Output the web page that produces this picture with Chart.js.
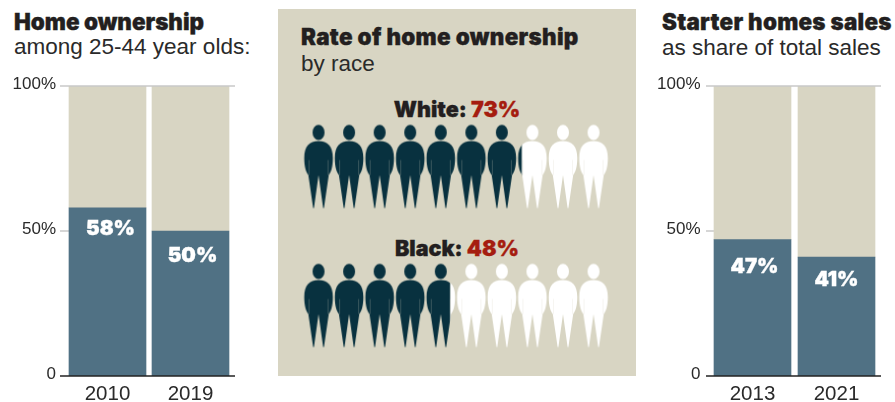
<!DOCTYPE html>
<html lang="en">
  <head>
    <meta charset="UTF-8" />
    <title>Home ownership</title>
    <style>
      html, body { margin: 0; padding: 0; background: #fff; }
      body { width: 895px; height: 402px; position: relative; overflow: hidden; font-family: "Liberation Sans", sans-serif; color: #2a2a2a; }
      canvas { position: absolute; }
      .panel { position: absolute; left: 278px; top: 9px; width: 358px; height: 367px; background: #d8d5c3; }
      .text { position: absolute; white-space: nowrap; font-size: 22.5px; line-height: 26px; }
      .head { font-family: Inter, sans-serif; font-weight: 900; font-size: 22.4px; color: #231f20; -webkit-text-stroke: 0.35px currentColor; }
      .rowlabel { font-size: 21.5px; text-align: center; width: 358px; left: 278px; }
      .rowlabel b { color: #a51d10; font-weight: 900; }
    </style>
  </head>
  <body>
    <div class="panel"></div>
    <div class="text head" style="left:14px;top:9px">Home ownership</div>
    <div class="text" style="left:14px;top:34px">among 25-44 year olds:</div>
    <div class="text head" style="left:301px;top:24px;letter-spacing:0.32px">Rate of home ownership</div>
    <div class="text" style="left:301px;top:51px">by race</div>
    <div class="text head" style="left:662px;top:9px;letter-spacing:0.26px">Starter homes sales</div>
    <div class="text" style="left:662px;top:35px">as share of total sales</div>
    <div class="text head rowlabel" id="row0" style="top:96px"></div>
    <div class="text head rowlabel" id="row1" style="top:235px"></div>

    <canvas id="ownership" width="260" height="402" style="left:0;top:0"></canvas>
    <canvas id="starter" width="251" height="402" style="left:644px;top:0"></canvas>
    <canvas id="people" width="337" height="230" style="left:288px;top:120px"></canvas>

    <script src="https://cdn.jsdelivr.net/npm/chart.js@4"></script>
    <script>
      var ownershipYears = ['2010', '2019'];
      var ownershipShare = [58, 50];
      var starterYears = ['2013', '2021'];
      var starterShare = [47, 41];
      var races = ['White', 'Black'];
      var raceShare = [73, 48];
      var figureCount = 10;

      var BEIGE = '#d8d5c3';
      var BAR_BLUE = '#507184';
      var DARK = '#08313f';

      // guide lines and white percentages on the bars
      var barExtras = {
        id: 'barExtras',
        beforeDatasetsDraw: function(chart, args, opts) {
          var ctx = chart.ctx, area = chart.chartArea, y = chart.scales.y;
          var firstBar = chart.getDatasetMeta(0).data[0];
          ctx.save();
          ctx.strokeStyle = '#c9c9c9';
          ctx.lineWidth = 1.5;
          ctx.beginPath();
          ctx.moveTo(area.left - opts.padLeft, y.getPixelForValue(50));
          ctx.lineTo(firstBar.x - firstBar.width / 2, y.getPixelForValue(50));
          ctx.stroke();
          ctx.restore();
        },
        afterDatasetsDraw: function(chart, args, opts) {
          var ctx = chart.ctx, area = chart.chartArea, y = chart.scales.y;
          ctx.save();
          ctx.lineWidth = 1.5;
          ctx.strokeStyle = '#c9c9c9';
          ctx.beginPath();
          ctx.moveTo(area.left - opts.padLeft, y.getPixelForValue(100));
          ctx.lineTo(area.right + opts.padRight, y.getPixelForValue(100));
          ctx.stroke();
          ctx.strokeStyle = '#222';
          ctx.beginPath();
          ctx.moveTo(area.left - opts.padLeft, y.getPixelForValue(0));
          ctx.lineTo(area.right + opts.padRight, y.getPixelForValue(0));
          ctx.stroke();

          ctx.fillStyle = '#fff';
          ctx.strokeStyle = '#fff';
          ctx.lineWidth = 0.4;
          ctx.font = '900 20.5px Inter, sans-serif';
          ctx.textAlign = 'center';
          ctx.textBaseline = 'middle';
          chart.getDatasetMeta(0).data.forEach(function(bar, i) {
            var v = chart.data.datasets[0].data[i];
            ctx.fillText(v + '%', bar.x + opts.nudge[i], bar.y + opts.drop[i]);
            ctx.strokeText(v + '%', bar.x + opts.nudge[i], bar.y + opts.drop[i]);
          });
          ctx.restore();
        }
      };

      function makeBars(id, years, share, extras, yWidth, rightPad) {
        new Chart(document.getElementById(id), {
          type: 'bar',
          data: {
            labels: years,
            datasets: [
              { data: share, backgroundColor: BAR_BLUE, stack: 's' },
              { data: share.map(function(v) { return 100 - v; }), backgroundColor: BEIGE, stack: 's' }
            ]
          },
          options: {
            responsive: false,
            animation: false,
            barThickness: 77,
            layout: { padding: { top: 86, right: rightPad, bottom: 0, left: 0 } },
            scales: {
              x: {
                stacked: true,
                grid: { display: false, drawTicks: false },
                border: { display: false },
                ticks: { color: '#2a2a2a', padding: 6, maxRotation: 0, font: { family: 'Liberation Sans', size: 20.5 } },
                afterFit: function(s) { s.height = 26; }
              },
              y: {
                stacked: true,
                min: 0,
                max: 100,
                grid: { display: false, drawTicks: false },
                border: { display: false },
                ticks: {
                  stepSize: 50,
                  padding: 10,
                  labelOffset: -2,
                  color: '#2a2a2a',
                  font: { family: 'Liberation Sans', size: 17 },
                  callback: function(v) { return v === 0 ? '0' : v + '%'; }
                },
                afterFit: function(s) { s.width = yWidth; }
              }
            },
            plugins: { legend: { display: false }, tooltip: { enabled: false }, barExtras: extras }
          },
          plugins: [barExtras]
        });
      }

      makeBars('ownership', ownershipYears, ownershipShare, { padLeft: 6, padRight: 3, drop: [21, 25], nudge: [3, 2] }, 66, 28);
      makeBars('starter', starterYears, starterShare, { padLeft: 4.5, padRight: 2.5, drop: [27, 23], nudge: [2, 0] }, 66.5, 16.5);

      // one person, dark up to splitX and white after it
      function drawFigureShape(ctx) {
        ctx.beginPath();
        ctx.ellipse(0, 7.4, 6, 7.6, 0, 0, Math.PI * 2);
        ctx.moveTo(0, 16);
        ctx.bezierCurveTo(-9, 16, -14.3, 21, -14.3, 33);
        ctx.bezierCurveTo(-14.3, 42, -12.5, 47, -10.2, 50);
        ctx.lineTo(-5.4, 83);
        ctx.lineTo(-4.6, 83);
        ctx.lineTo(0, 50);
        ctx.lineTo(4.6, 83);
        ctx.lineTo(5.4, 83);
        ctx.lineTo(10.2, 50);
        ctx.bezierCurveTo(12.5, 47, 14.3, 42, 14.3, 33);
        ctx.bezierCurveTo(14.3, 21, 9, 16, 0, 16);
        ctx.closePath();
      }

      function makeFigure(splitX) {
        var c = document.createElement('canvas');
        c.width = 32;
        c.height = 86;
        var ctx = c.getContext('2d');
        ctx.translate(16, 1.5);
        [[DARK, -16, splitX + 16], ['#fff', splitX, 16 - splitX]].forEach(function(part) {
          ctx.save();
          ctx.beginPath();
          ctx.rect(part[1], -2, part[2], 90);
          ctx.clip();
          ctx.fillStyle = part[0];
          drawFigureShape(ctx);
          ctx.fill();
          // slit between arm and body
          ctx.strokeStyle = 'rgba(216,213,195,0.3)';
          ctx.lineWidth = 0.8;
          ctx.beginPath();
          ctx.moveTo(-9.5, 35); ctx.lineTo(-9.5, 50);
          ctx.moveTo(9.5, 35); ctx.lineTo(9.5, 50);
          ctx.stroke();
          ctx.restore();
        });
        return c;
      }

      // the share runs across the row, from the first head to the last head
      var figureStep = 30.55;
      var fillStart = -5.9;
      var fillSpan = (figureCount - 1) * figureStep + 11.8;

      var points = [], pointStyles = [];
      races.forEach(function(race, row) {
        document.getElementById('row' + row).innerHTML = race + ': <b>' + raceShare[row] + '%</b>';
        var edge = fillStart + fillSpan * raceShare[row] / 100;
        for (var i = 0; i < figureCount; i++) {
          points.push({ x: i, y: row });
          pointStyles.push(makeFigure(edge - i * figureStep));
        }
      });

      new Chart(document.getElementById('people'), {
        type: 'scatter',
        data: {
          datasets: [{
            data: points,
            pointStyle: pointStyles,
            pointRadius: 16,
            clip: false
          }]
        },
        options: {
          responsive: false,
          animation: false,
          layout: { padding: 0, autoPadding: false },
          scales: {
            x: { display: false, min: -1, max: 10.03 },
            y: { display: false, reverse: true, min: -0.3345, max: 1.32 }
          },
          plugins: { legend: { display: false }, tooltip: { enabled: false } }
        }
      });
    </script>
  </body>
</html>
